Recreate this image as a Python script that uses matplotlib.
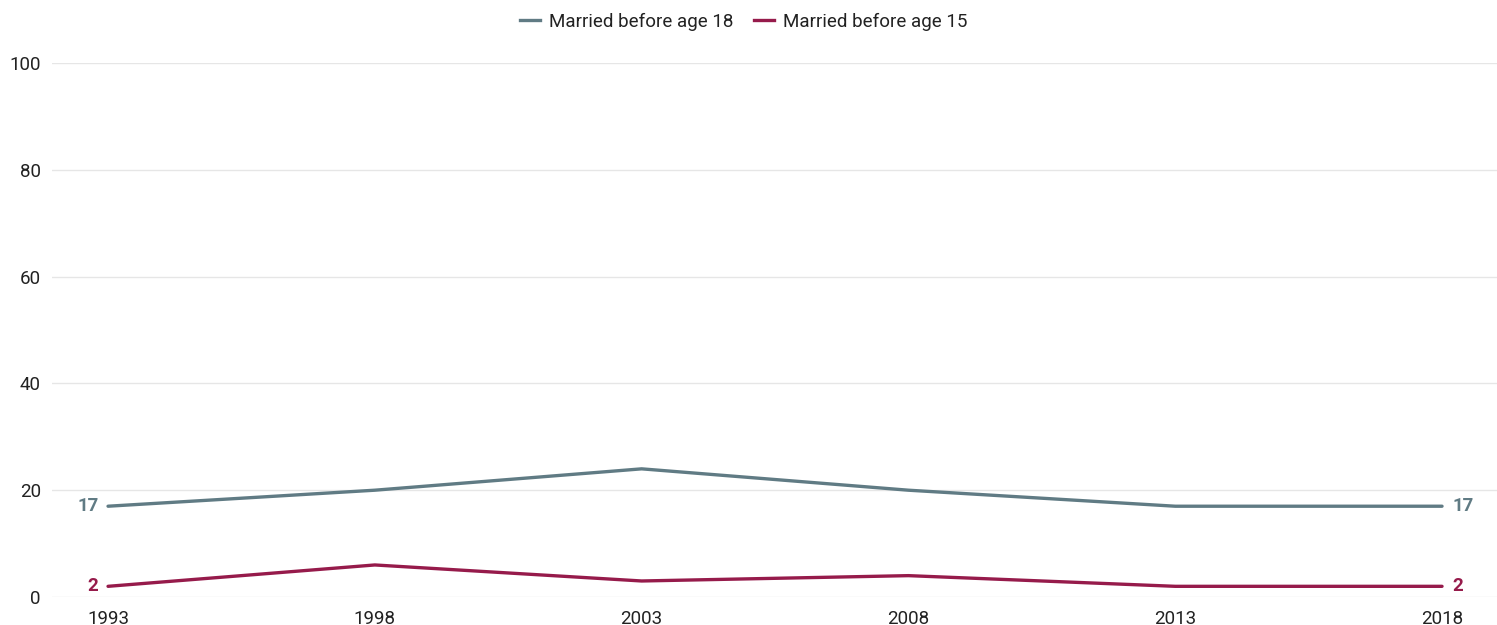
import matplotlib
matplotlib.use("Agg")
import matplotlib.pyplot as plt
from matplotlib.lines import Line2D

years = [1993, 1998, 2003, 2008, 2013, 2018]
married_18 = [17, 20, 24, 20, 17, 17]
married_15 = [2, 6, 3, 4, 2, 2]
series_names = ["Married before age 18", "Married before age 15"]
colors = ["#607B84", "#961B4B"]
yticks = [0, 20, 40, 60, 80, 100]

plt.rcParams['font.family'] = ['Roboto', 'DejaVu Sans']

fig = plt.figure(figsize=(14.97, 6.25), dpi=100)
ax = fig.add_axes([52/1497, 1-597/625, 1-52/1497, (597-63)/625])

for vals, c, name in zip([married_18, married_15], colors, series_names):
    ax.plot(years, vals, color=c, lw=2.4, solid_capstyle='round', label=name, zorder=3)
    ax.text(years[0] - 0.18, vals[0], str(vals[0]), color=c, fontsize=13.5,
            fontweight='bold', ha='right', va='center')
    ax.text(years[-1] + 0.2, vals[-1], str(vals[-1]), color=c, fontsize=13.5,
            fontweight='bold', ha='left', va='center')

ax.set_xlim(1991.95, 2019.03)
ax.set_ylim(0, 100)
ax.set_yticks(yticks)
ax.set_xticks(years)
ax.set_xticklabels([str(y) for y in years])
ax.grid(axis='y', color='#E6E6E6', lw=1)
ax.set_axisbelow(True)
for s in ax.spines.values():
    s.set_visible(False)
ax.tick_params(axis='both', length=0, labelsize=13.5, colors='#222222')
ax.tick_params(axis='y', pad=8)
ax.tick_params(axis='x', pad=9)

handles = [Line2D([0], [0], color=c, lw=2.4) for c in colors]
fig.legend(handles, series_names, loc='center', bbox_to_anchor=(0.4967, 1-22/625),
           ncol=2, frameon=False, fontsize=13.5, handlelength=1.1, handletextpad=0.45,
           columnspacing=1.1, labelcolor='#222222')

fig.savefig("out.png", dpi=100)
